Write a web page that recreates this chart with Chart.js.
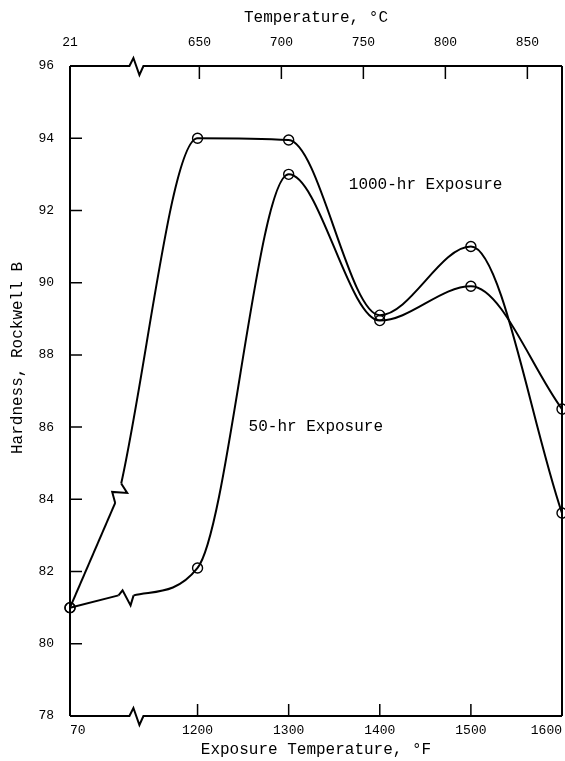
<!DOCTYPE html>
<html>
<head>
<meta charset="utf-8">
<script src="https://cdn.jsdelivr.net/npm/chart.js@4.4.0/dist/chart.umd.min.js"></script>
<style>
  html, body { margin: 0; padding: 0; background: #fff; }
  #wrap { width: 565px; height: 761px; }
</style>
</head>
<body>
<div id="wrap"><canvas id="chartHardness"></canvas></div>
<script>
// Test temperatures (°F); 70 °F sits on the broken part of the axis
const tempF = [70, 1200, 1300, 1400, 1500, 1600];
const hard1000 = [81.0, 94.0, 93.95, 89.1, 91.0, 83.62];
const hard50 = [81.0, 82.1, 93.0, 88.95, 89.9, 86.5];

// Where each curve is broken (gap start, gap end)
const break1000F = [1109.6, 1116.2];
const break1000H = [83.9, 84.44];
const break50F = [1113.3, 1129.8];
const break50H = [81.34, 81.34];

// Axis ticks
const xTicksF = [70, 1200, 1300, 1400, 1500, 1600];
const xTicksC = [21, 650, 700, 750, 800, 850];
const yTicks = [78, 80, 82, 84, 86, 88, 90, 92, 94, 96];

// Curve names and where they are written
const seriesNames = ['1000-hr Exposure', '50-hr Exposure'];
const nameF = [1366, 1256];
const nameH = [92.7, 86.0];

const X_MIN = 1060; // axis position that stands for 70 °F
const X_MAX = 1600;
const AXIS_BREAK = 1134;
const FONT = "'Liberation Mono', 'DejaVu Sans Mono', monospace";

function toAxis(f) {
  return f < 1000 ? X_MIN : f;
}
function cToF(c) {
  return c * 9 / 5 + 32;
}

// part of a curve before its break
function leadPoints(h, bF, bH) {
  return [{ x: toAxis(tempF[0]), y: h[0] }, { x: bF[0], y: bH[0] }];
}
// part of a curve after its break
function mainPoints(h, bF, bH) {
  const pts = [{ x: bF[1], y: bH[1] }];
  for (let i = 1; i < tempF.length; i++) pts.push({ x: toAxis(tempF[i]), y: h[i] });
  return pts;
}

const lineStyle = {
  borderColor: '#000',
  borderWidth: 2,
  pointBorderColor: '#000',
  pointBackgroundColor: 'rgba(0,0,0,0)',
  pointBorderWidth: 1.4,
  fill: false,
  clip: false,
};

// frame with axis breaks and inward ticks
const framePlugin = {
  id: 'frame',
  beforeDatasetsDraw(chart) {
    const { ctx, chartArea: a, scales } = chart;
    const bx = scales.x.getPixelForValue(AXIS_BREAK);
    ctx.save();
    ctx.strokeStyle = '#000';
    ctx.lineWidth = 2;
    ctx.lineJoin = 'miter';
    [a.top, a.bottom].forEach((yy) => {
      ctx.beginPath();
      ctx.moveTo(a.left, yy);
      ctx.lineTo(bx - 8, yy);
      ctx.lineTo(bx - 4, yy - 8);
      ctx.lineTo(bx + 2, yy + 9);
      ctx.lineTo(bx + 6, yy);
      ctx.lineTo(a.right, yy);
      ctx.stroke();
    });
    ctx.beginPath();
    ctx.moveTo(a.left, a.top);
    ctx.lineTo(a.left, a.bottom);
    ctx.moveTo(a.right, a.top);
    ctx.lineTo(a.right, a.bottom);
    ctx.stroke();

    ctx.lineWidth = 1.5;
    ctx.beginPath();
    yTicks.slice(1, -1).forEach((v) => {
      const py = scales.y.getPixelForValue(v);
      ctx.moveTo(a.left, py);
      ctx.lineTo(a.left + 12, py);
    });
    xTicksF.slice(1, -1).forEach((f) => {
      const px = scales.x.getPixelForValue(toAxis(f));
      ctx.moveTo(px, a.bottom);
      ctx.lineTo(px, a.bottom - 12);
    });
    xTicksC.slice(1).forEach((c) => {
      const px = scales.x2.getPixelForValue(toAxis(cToF(c)));
      ctx.moveTo(px, a.top);
      ctx.lineTo(px, a.top + 13);
    });
    ctx.stroke();
    ctx.restore();
  },
  afterDatasetsDraw(chart) {
    const { ctx, scales } = chart;
    const px = (f, h) => ({ x: scales.x.getPixelForValue(f), y: scales.y.getPixelForValue(h) });
    ctx.save();
    ctx.strokeStyle = '#000';
    ctx.lineWidth = 2;

    // break in the 1000-hr curve
    let A = px(break1000F[0], break1000H[0]);
    let D = px(break1000F[1], break1000H[1]);
    ctx.beginPath();
    ctx.moveTo(A.x, A.y);
    ctx.lineTo(A.x - 3, A.y - 11);
    ctx.lineTo(A.x + 12, A.y - 10);
    ctx.lineTo(D.x, D.y);
    ctx.stroke();

    // break in the 50-hr curve
    A = px(break50F[0], break50H[0]);
    D = px(break50F[1], break50H[1]);
    ctx.beginPath();
    ctx.moveTo(A.x, A.y);
    ctx.lineTo(A.x + 4, A.y - 5);
    ctx.lineTo(A.x + 12, A.y + 10);
    ctx.lineTo(D.x, D.y);
    ctx.stroke();

    // curve names
    ctx.fillStyle = '#000';
    ctx.font = '16px ' + FONT;
    ctx.textAlign = 'left';
    ctx.textBaseline = 'middle';
    seriesNames.forEach((name, i) => {
      const p = px(nameF[i], nameH[i]);
      ctx.fillText(name, p.x, p.y);
    });

    // y axis title
    ctx.translate(18, 358);
    ctx.rotate(-Math.PI / 2);
    ctx.textAlign = 'center';
    ctx.fillText('Hardness, Rockwell B', 0, 0);
    ctx.restore();
  },
};

// keep the plot box fixed, no extra room for overflowing labels
function fixBox(size, key) {
  return (s) => {
    s[key] = size;
    s.paddingLeft = 0;
    s.paddingRight = 0;
  };
}

const ctxHardness = document.getElementById('chartHardness').getContext('2d');
const chartHardness = new Chart(ctxHardness, {
  type: 'line',
  data: {
    datasets: [
      { ...lineStyle, label: '1000-hr lead', data: leadPoints(hard1000, break1000F, break1000H), tension: 0, pointRadius: [5, 0] },
      { ...lineStyle, label: '1000-hr Exposure', data: mainPoints(hard1000, break1000F, break1000H), cubicInterpolationMode: 'monotone', pointRadius: [0, 5, 5, 5, 5, 5] },
      { ...lineStyle, label: '50-hr lead', data: leadPoints(hard50, break50F, break50H), tension: 0, pointRadius: [5, 0] },
      { ...lineStyle, label: '50-hr Exposure', data: mainPoints(hard50, break50F, break50H), cubicInterpolationMode: 'monotone', pointRadius: [0, 5, 5, 5, 5, 5] },
    ],
  },
  options: {
    responsive: true,
    maintainAspectRatio: false,
    animation: false,
    layout: { autoPadding: false, padding: { right: 3 } },
    plugins: { legend: { display: false }, tooltip: { enabled: false } },
    scales: {
      x: {
        type: 'linear',
        position: 'bottom',
        min: X_MIN,
        max: X_MAX,
        afterBuildTicks: (s) => { s.ticks = xTicksF.map((f) => ({ value: toAxis(f) })); },
        afterFit: fixBox(45, 'height'),
        grid: { display: false, drawTicks: false },
        border: { display: false },
        ticks: {
          autoSkip: false,
          maxRotation: 0,
          align: 'inner',
          padding: 7,
          color: '#000',
          font: { family: FONT, size: 13 },
          callback: (v, i) => xTicksF[i],
        },
        title: {
          display: true,
          text: 'Exposure Temperature, °F',
          color: '#000',
          font: { family: FONT, size: 16 },
          padding: { top: 0, bottom: 2 },
        },
      },
      x2: {
        type: 'linear',
        position: 'top',
        min: X_MIN,
        max: X_MAX,
        afterBuildTicks: (s) => { s.ticks = xTicksC.map((c) => ({ value: toAxis(cToF(c)) })); },
        afterFit: fixBox(66, 'height'),
        grid: { display: false, drawTicks: false },
        border: { display: false },
        ticks: {
          autoSkip: false,
          maxRotation: 0,
          padding: 16,
          color: '#000',
          font: { family: FONT, size: 13 },
          callback: (v, i) => xTicksC[i],
        },
        title: {
          display: true,
          text: 'Temperature, °C',
          color: '#000',
          font: { family: FONT, size: 16 },
          padding: { top: 8, bottom: 0 },
        },
      },
      y: {
        min: 78,
        max: 96,
        afterBuildTicks: (s) => { s.ticks = yTicks.map((v) => ({ value: v })); },
        afterFit: (s) => { s.width = 70; s.paddingTop = 0; s.paddingBottom = 0; },
        grid: { display: false, drawTicks: false },
        border: { display: false },
        ticks: {
          padding: 16,
          color: '#000',
          font: { family: FONT, size: 13 },
        },
      },
    },
  },
  plugins: [framePlugin],
});
</script>
</body>
</html>
